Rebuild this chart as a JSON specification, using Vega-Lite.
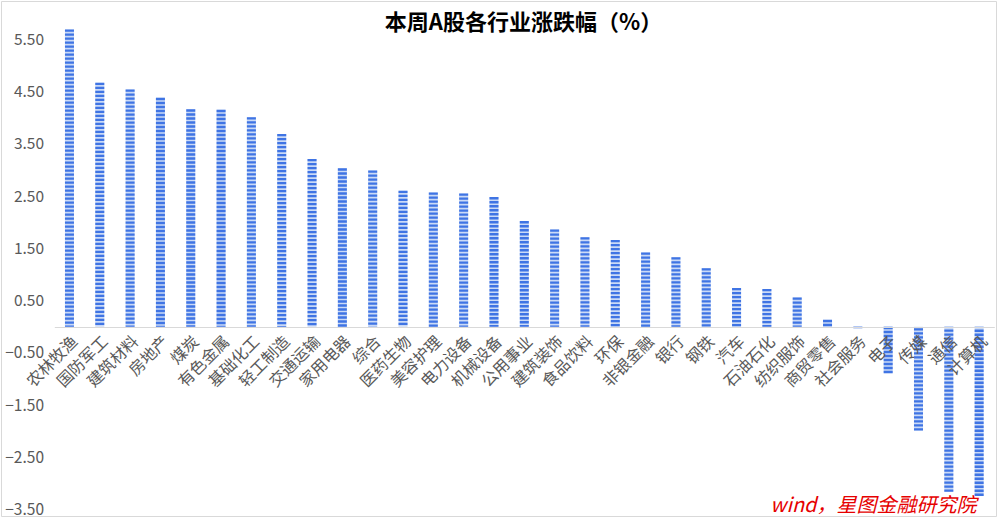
{
  "$schema": "https://vega.github.io/schema/vega-lite/v6.json",
  "autosize": "none",
  "width": 995,
  "height": 515,
  "padding": 1,
  "background": "white",
  "config": {
    "view": {"stroke": "#d9d9d9", "strokeWidth": 1},
    "font": "Noto Sans CJK SC"
  },
  "title": {
    "text": "本周A股各行业涨跌幅（%）",
    "anchor": "middle",
    "frame": "group",
    "fontSize": 22,
    "fontWeight": "bold",
    "color": "#000000",
    "font": "Noto Sans CJK SC",
    "baseline": "middle",
    "dy": 48,
    "dx": 25
  },
  "data": {
    "values": [
      {"industry": "农林牧渔", "change": 5.69},
      {"industry": "国防军工", "change": 4.67},
      {"industry": "建筑材料", "change": 4.54},
      {"industry": "房地产", "change": 4.38},
      {"industry": "煤炭", "change": 4.16},
      {"industry": "有色金属", "change": 4.15},
      {"industry": "基础化工", "change": 4.01},
      {"industry": "轻工制造", "change": 3.69},
      {"industry": "交通运输", "change": 3.21},
      {"industry": "家用电器", "change": 3.03},
      {"industry": "综合", "change": 2.99},
      {"industry": "医药生物", "change": 2.60},
      {"industry": "美容护理", "change": 2.57},
      {"industry": "电力设备", "change": 2.55},
      {"industry": "机械设备", "change": 2.48},
      {"industry": "公用事业", "change": 2.02},
      {"industry": "建筑装饰", "change": 1.86},
      {"industry": "食品饮料", "change": 1.71},
      {"industry": "环保", "change": 1.66},
      {"industry": "非银金融", "change": 1.42},
      {"industry": "银行", "change": 1.33},
      {"industry": "钢铁", "change": 1.12},
      {"industry": "汽车", "change": 0.74},
      {"industry": "石油石化", "change": 0.72},
      {"industry": "纺织服饰", "change": 0.56},
      {"industry": "商贸零售", "change": 0.13},
      {"industry": "社会服务", "change": -0.03},
      {"industry": "电子", "change": -0.89},
      {"industry": "传媒", "change": -1.99},
      {"industry": "通信", "change": -3.16},
      {"industry": "计算机", "change": -3.24}
    ]
  },
  "encoding": {
    "x": {
      "field": "industry",
      "type": "nominal",
      "sort": null,
      "scale": {"range": [53.3, 993.3], "paddingInner": 0.7, "paddingOuter": 0.35},
      "axis": {
        "zindex": 1,
        "title": "wind，星图金融研究院",
        "titleColor": "#e60000",
        "titleFontStyle": "italic",
        "titleFontWeight": "normal",
        "titleFontSize": 20,
        "titleFont": "Noto Sans CJK SC",
        "titleAlign": "right",
        "titleBaseline": "alphabetic",
        "titleX": 975,
        "titleY": 184,
        "titleAnchor": null,
        "offset": -189,
        "labelAngle": -45,
        "labelFontSize": 16,
        "labelColor": "#595959",
        "labelPadding": 6,
        "ticks": false,
        "tickSize": 0,
        "domainColor": "#d9d9d9",
        "domainWidth": 1,
        "grid": false,
        "labelOverlap": false
      }
    },
    "y": {
      "field": "change",
      "type": "quantitative",
      "scale": {"domain": [-3.5, 6.0], "range": [508.5, 12.2], "nice": false, "zero": false},
      "axis": {
        "title": null,
        "values": [-3.5, -2.5, -1.5, -0.5, 0.5, 1.5, 2.5, 3.5, 4.5, 5.5],
        "format": ".2f",
        "offset": -42.5,
        "labelPadding": 0,
        "ticks": false,
        "tickSize": 0,
        "domain": false,
        "grid": false,
        "labelFontSize": 15.5,
        "labelColor": "#595959",
        "labelFont": "Noto Sans CJK SC"
      }
    }
  },
  "layer": [
    {
      "mark": {"type": "bar", "color": "#cbdaf6"},
      "encoding": {"y2": {"datum": 0}}
    },
    {
      "mark": {"type": "rule", "color": "#3f74e4", "strokeWidth": 9, "strokeDash": [2.3, 1.7], "strokeCap": "butt"},
      "encoding": {"y2": {"datum": 0}}
    }
  ]
}
